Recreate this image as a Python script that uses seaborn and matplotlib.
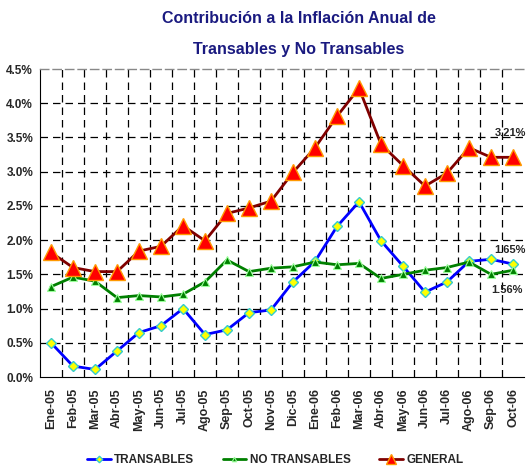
import numpy as np
import pandas as pd
import matplotlib
matplotlib.use("Agg")
import matplotlib.pyplot as plt
import seaborn as sns
from matplotlib.ticker import FuncFormatter, FixedLocator

meses = ['Ene-05', 'Feb-05', 'Mar-05', 'Abr-05', 'May-05', 'Jun-05', 'Jul-05', 'Ago-05',
         'Sep-05', 'Oct-05', 'Nov-05', 'Dic-05', 'Ene-06', 'Feb-06', 'Mar-06', 'Abr-06',
         'May-06', 'Jun-06', 'Jul-06', 'Ago-06', 'Sep-06', 'Oct-06']

transables = [0.50, 0.16, 0.11, 0.38, 0.65, 0.75, 1.00, 0.62, 0.69, 0.94, 0.98,
              1.39, 1.69, 2.20, 2.56, 1.99, 1.62, 1.24, 1.39, 1.69, 1.72, 1.65]
no_transables = [1.32, 1.46, 1.40, 1.16, 1.19, 1.17, 1.21, 1.39, 1.71, 1.54, 1.59,
                 1.61, 1.68, 1.64, 1.66, 1.44, 1.50, 1.56, 1.60, 1.68, 1.50, 1.56]
general = [1.82, 1.60, 1.54, 1.54, 1.84, 1.91, 2.21, 1.99, 2.39, 2.47, 2.57,
           2.99, 3.35, 3.81, 4.22, 3.40, 3.09, 2.79, 2.98, 3.35, 3.21, 3.21]

etiquetas = {'GENERAL': '3.21%', 'TRANSABLES': '1.65%', 'NO TRANSABLES': '1.56%'}

sns.set_style("white")
plt.rcParams['font.family'] = ['Liberation Sans Narrow', 'Liberation Sans', 'DejaVu Sans']

df = pd.DataFrame({'mes': np.arange(len(meses)),
                   'TRANSABLES': transables,
                   'NO TRANSABLES': no_transables,
                   'GENERAL': general})

fig = plt.figure(figsize=(5.29, 4.74), dpi=100)
ax = fig.add_axes([0.0756, 0.2046, 0.915, 0.6498])

estilos = {
    'TRANSABLES': dict(color='#0000FF', marker='D', markersize=5.5,
                       markerfacecolor='#FFFF00', markeredgecolor='#33CCCC', markeredgewidth=1.0),
    'NO TRANSABLES': dict(color='#008000', marker='^', markersize=5.5,
                          markerfacecolor='#008000', markeredgecolor='#99FF99', markeredgewidth=0.8),
    'GENERAL': dict(color='#800000', marker='^', markersize=11,
                    markerfacecolor='#FF0000', markeredgecolor='#FF9900', markeredgewidth=1.0),
}

for serie in ['TRANSABLES', 'NO TRANSABLES', 'GENERAL']:
    sns.lineplot(data=df, x='mes', y=serie, ax=ax, label=serie, linewidth=2.0,
                 legend=False, **estilos[serie])

ax.set_xlim(-0.5, len(meses) - 0.5)
ax.set_ylim(0, 4.5)
ax.set_xlabel('')
ax.set_ylabel('')

ax.set_yticks(np.arange(0, 4.51, 0.5))
ax.yaxis.set_major_formatter(FuncFormatter(lambda v, p: f'{v:.1f}%'))
ax.set_xticks(np.arange(len(meses)))
ax.set_xticklabels(meses, rotation=90, fontsize=9, fontweight='bold')
ax.xaxis.set_minor_locator(FixedLocator(np.arange(0.5, len(meses) - 0.5, 1)))
ax.tick_params(axis='x', which='major', length=0, pad=8)
ax.tick_params(axis='x', which='minor', length=4, width=0.8, direction='out', color='black')
ax.tick_params(axis='y', length=4, width=0.8, direction='out', color='black', labelsize=8.5, pad=1)
for t in ax.get_yticklabels():
    t.set_fontweight('bold')

# rejilla punteada
for yv in np.arange(0.5, 4.01, 0.5):
    ax.axhline(yv, color='black', linestyle=(0, (6, 4)), linewidth=0.9, zorder=0)
for xv in np.arange(0.5, len(meses) - 0.5, 1):
    ax.axvline(xv, color='black', linestyle=(0, (6, 4)), linewidth=0.9, zorder=0)

ax.spines['right'].set_visible(False)
ax.spines['top'].set_color('#888888')
ax.spines['top'].set_linestyle((0, (6, 3)))
ax.spines['top'].set_linewidth(1.0)
ax.spines['left'].set_color('black')
ax.spines['bottom'].set_color('black')

ax.annotate(etiquetas['GENERAL'], xy=(20.15, 3.56), fontsize=8, fontweight='bold',
            ha='left', va='center', annotation_clip=False)
ax.annotate(etiquetas['TRANSABLES'], xy=(20.15, 1.85), fontsize=8, fontweight='bold',
            ha='left', va='center', annotation_clip=False)
ax.annotate(etiquetas['NO TRANSABLES'], xy=(20.0, 1.27), fontsize=8, fontweight='bold',
            ha='left', va='center', annotation_clip=False)

fig.text(0.565, 0.96, 'Contribución a la Inflación Anual de', ha='center', va='center',
         fontsize=11.5, fontweight='bold', color='#1A1A80')
fig.text(0.565, 0.895, 'Transables y No Transables', ha='center', va='center',
         fontsize=11.5, fontweight='bold', color='#1A1A80')

handles, labels = ax.get_legend_handles_labels()
fig.legend(handles, labels, loc='lower center', bbox_to_anchor=(0.52, -0.005), ncol=3,
           frameon=False, handlelength=2.0, columnspacing=2.4, markerscale=0.6,
           handletextpad=0.3, prop={'weight': 'bold', 'size': 8.5})

fig.savefig('out.png', dpi=100)
